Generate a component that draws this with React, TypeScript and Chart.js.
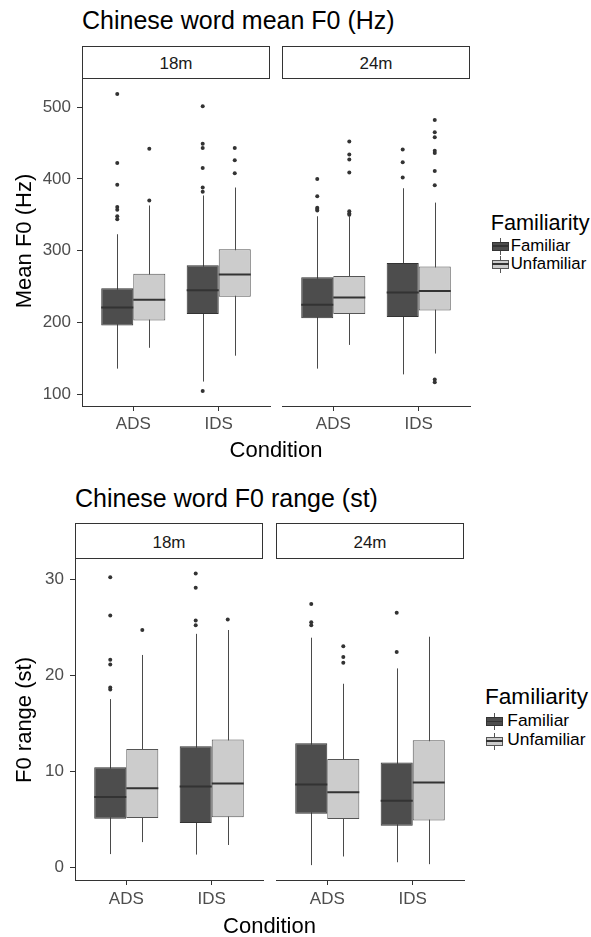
import React, { useEffect, useRef } from "react";
import { Chart, registerables } from "chart.js";

Chart.register(...registerables);

// ---------- data ----------
const conditions = ["ADS", "IDS"];
const ages = ["18m", "24m"];
const familiarity = ["Familiar", "Unfamiliar"];

// box stats per condition (ADS, IDS): [lower whisker, Q1, median, Q3, upper whisker]
const meanF0_18m_familiar = [[136, 196, 221, 248, 323], [118, 212, 245, 280, 377]];
const meanF0_18m_unfamiliar = [[165, 203, 232, 268, 363], [154, 236, 267, 302, 388]];
const meanF0_24m_familiar = [[136, 206, 225, 263, 348], [128, 208, 242, 283, 387]];
const meanF0_24m_unfamiliar = [[169, 212, 235, 265, 348], [157, 217, 244, 278, 367]];

const meanF0_18m_familiar_out = [[518, 422, 392, 361, 357, 348, 344], [501, 449, 443, 415, 388, 382, 105]];
const meanF0_18m_unfamiliar_out = [[442, 370], [443, 426, 408]];
const meanF0_24m_familiar_out = [[400, 376, 360, 358, 356], [441, 423, 402]];
const meanF0_24m_unfamiliar_out = [[452, 434, 427, 409, 355, 352, 350], [482, 465, 458, 439, 436, 411, 391, 121, 117]];

const range_18m_familiar = [[1.35, 5.03, 7.3, 10.4, 17.5], [1.3, 4.6, 8.4, 12.6, 24.3]];
const range_18m_unfamiliar = [[2.6, 5.1, 8.2, 12.3, 22.1], [2.3, 5.2, 8.7, 13.3, 24.7]];
const range_24m_familiar = [[0.2, 5.55, 8.6, 12.9, 23.9], [0.5, 4.3, 6.9, 10.9, 20.7]];
const range_24m_unfamiliar = [[1.1, 5.0, 7.8, 11.25, 19.1], [0.3, 4.85, 8.8, 13.2, 24.0]];

const range_18m_familiar_out = [[30.2, 26.2, 21.6, 21.1, 18.7, 18.5], [30.6, 29.1, 25.7, 25.2]];
const range_18m_unfamiliar_out = [[24.7], [25.8]];
const range_24m_familiar_out = [[27.4, 25.5, 25.2], [26.5, 22.4]];
const range_24m_unfamiliar_out = [[23.0, 21.9, 21.3], []];

const meanF0Ticks = [100, 200, 300, 400, 500];
const rangeTicks = [0, 10, 20, 30];

// ---------- style ----------
const FONT = '"Liberation Sans", Arial, Helvetica, sans-serif';
const FILL = ["#4d4d4d", "#cccccc"];
const BORDER = ["#333333", "#555555"];
const DODGE = 0.75;

function drawParts(chart: any, part: string) {
  const ctx = chart.ctx;
  const ys = chart.scales.y;
  chart.data.datasets.forEach((ds: any, di: number) => {
    if (!ds.stats) return;
    const meta = chart.getDatasetMeta(di);
    meta.data.forEach((bar: any, i: number) => {
      const s = ds.stats[i];
      const { x, width } = bar.getProps(["x", "width"], true);
      ctx.save();
      if (part === "whisker") {
        const cx = Math.round(x) + 0.5;
        ctx.strokeStyle = "#4a4a4a";
        ctx.lineWidth = 1;
        ctx.beginPath();
        ctx.moveTo(cx, ys.getPixelForValue(s[0]));
        ctx.lineTo(cx, ys.getPixelForValue(s[4]));
        ctx.stroke();
      } else {
        const py = ys.getPixelForValue(s[2]);
        ctx.strokeStyle = "#333333";
        ctx.lineWidth = 2;
        ctx.beginPath();
        ctx.moveTo(x - width / 2, py);
        ctx.lineTo(x + width / 2, py);
        ctx.stroke();
      }
      ctx.restore();
    });
  });
}

const boxPartsPlugin = {
  id: "boxParts",
  beforeDatasetsDraw(chart: any) {
    drawParts(chart, "whisker");
  },
  afterDatasetsDraw(chart: any) {
    drawParts(chart, "median");
  },
};

type PanelProps = {
  l: number; r: number; t: number; b: number;
  showY: boolean;
  yMin: number; yMax: number; yTicks: number[];
  fam: number[][]; unfam: number[][];
  famOut: number[][]; unfamOut: number[][];
  xPad: number;
};

function Panel(p: PanelProps) {
  const ref = useRef<HTMLCanvasElement>(null);
  const left = p.showY ? 0 : p.l - 10;
  const top = p.t - 20;
  const width = p.r + 10 - left;
  const height = p.b + 40 - top;

  useEffect(() => {
    const boxes = [p.fam, p.unfam];
    const outs = [p.famOut, p.unfamOut];
    const datasets: any[] = [];
    boxes.forEach((bx, f) => {
      datasets.push({
        type: "bar",
        label: familiarity[f],
        data: bx.map((s, i) => ({ x: i + 1, y: [s[1], s[3]] })),
        stats: bx,
        backgroundColor: FILL[f],
        borderColor: BORDER[f],
        borderWidth: 1,
        borderSkipped: false,
        categoryPercentage: DODGE,
        barPercentage: 1,
      });
    });
    outs.forEach((o, f) => {
      datasets.push({
        type: "scatter",
        label: familiarity[f] + " outliers",
        data: o.flatMap((vals, i) =>
          vals.map((v) => ({ x: i + 1 + (f === 0 ? -1 : 1) * (DODGE / 4), y: v }))
        ),
        pointRadius: 2,
        pointBackgroundColor: "#333333",
        pointBorderWidth: 0,
        pointHoverRadius: 2,
      });
    });

    const chart = new Chart(ref.current as HTMLCanvasElement, {
      type: "bar",
      data: { datasets },
      plugins: [boxPartsPlugin],
      options: {
        responsive: false,
        animation: false,
        devicePixelRatio: 1,
        layout: { padding: { left: p.showY ? 0 : 10, right: 10, top: 20, bottom: 0 } },
        plugins: { legend: { display: false }, tooltip: { enabled: false } },
        events: [],
        scales: {
          x: {
            type: "linear",
            min: 0.4,
            max: 2.6,
            offset: false,
            afterBuildTicks: (scale: any) => {
              scale.ticks = conditions.map((_, i) => ({ value: i + 1 }));
            },
            afterFit: (scale: any) => {
              scale.height = 40;
            },
            ticks: {
              callback: (v: any) => conditions[Math.round(Number(v)) - 1] ?? "",
              font: { family: FONT, size: 17 },
              color: "#4d4d4d",
              padding: p.xPad,
              maxRotation: 0,
              autoSkip: false,
            },
            grid: { drawOnChartArea: false, offset: false, tickLength: 5, color: "#333333", lineWidth: 1 },
            border: { display: true, color: "#333333", width: 1 },
          },
          y: {
            type: "linear",
            display: p.showY,
            min: p.yMin,
            max: p.yMax,
            afterBuildTicks: (scale: any) => {
              scale.ticks = p.yTicks.map((v) => ({ value: v }));
            },
            afterFit: (scale: any) => {
              scale.width = p.showY ? p.l : 0;
            },
            ticks: {
              font: { family: FONT, size: 17 },
              color: "#4d4d4d",
              padding: 6,
            },
            grid: { drawOnChartArea: false, tickLength: 5, color: "#333333", lineWidth: 1 },
            border: { display: true, color: "#333333", width: 1 },
          },
        },
      } as any,
    });
    return () => chart.destroy();
  }, []);

  return (
    <canvas
      ref={ref}
      width={width}
      height={height}
      style={{ position: "absolute", left, top, width, height }}
    />
  );
}

function Txt(props: { x: number; y: number; size: number; align?: string; color?: string; children: any }) {
  const { x, y, size, align = "left", color = "#000", children } = props;
  const tx = align === "center" ? "translateX(-50%)" : align === "right" ? "translateX(-100%)" : "none";
  return (
    <div
      style={{
        position: "absolute",
        left: x,
        top: y - 0.8465 * size,
        fontSize: size,
        lineHeight: `${size}px`,
        whiteSpace: "nowrap",
        color,
        transform: tx,
      }}
    >
      {children}
    </div>
  );
}

function VTxt(props: { cx: number; cy: number; size: number; children: any }) {
  const { cx, cy, size, children } = props;
  return (
    <div
      style={{
        position: "absolute",
        left: cx - 150,
        top: cy - size / 2,
        width: 300,
        height: size,
        lineHeight: `${size}px`,
        fontSize: size,
        textAlign: "center",
        whiteSpace: "nowrap",
        transform: "rotate(-90deg)",
        color: "#000",
      }}
    >
      {children}
    </div>
  );
}

function Strip(props: { l: number; r: number; t: number; h: number; baseline: number; label: string }) {
  const { l, r, t, h, baseline, label } = props;
  return (
    <>
      <div
        style={{
          position: "absolute",
          left: l,
          top: t,
          width: r - l,
          height: h,
          boxSizing: "border-box",
          border: "1px solid #333",
          background: "#fff",
        }}
      />
      <Txt x={(l + r) / 2} y={baseline} size={17} align="center" color="#1a1a1a">
        {label}
      </Txt>
    </>
  );
}

function Key(props: { x: number; cy: number; f: number }) {
  const { x, cy, f } = props;
  const w = 17;
  const bh = 9;
  const wh = 4;
  return (
    <>
      <div style={{ position: "absolute", left: x + w / 2 - 0.5, top: cy - bh / 2 - wh, width: 1, height: bh + 2 * wh, background: "#555" }} />
      <div
        style={{
          position: "absolute",
          left: x,
          top: cy - bh / 2,
          width: w,
          height: bh,
          boxSizing: "border-box",
          background: FILL[f],
          border: `1px solid ${BORDER[f]}`,
        }}
      />
      <div style={{ position: "absolute", left: x, top: cy - 1, width: w, height: 1.5, background: "#333" }} />
    </>
  );
}

function Legend(props: { x: number; titleBase: number; titleSize: number; keyX: number; cys: number[]; textX: number; bases: number[]; textSize: number }) {
  const { x, titleBase, titleSize, keyX, cys, textX, bases, textSize } = props;
  return (
    <>
      <Txt x={x} y={titleBase} size={titleSize}>Familiarity</Txt>
      {familiarity.map((name, f) => (
        <React.Fragment key={name}>
          <Key x={keyX} cy={cys[f]} f={f} />
          <Txt x={textX} y={bases[f]} size={textSize}>{name}</Txt>
        </React.Fragment>
      ))}
    </>
  );
}

export default function App() {
  const top = { t: 79, b: 406, panels: [{ l: 82, r: 270 }, { l: 282, r: 470 }] };
  const bot = { t: 559, b: 880, panels: [{ l: 75, r: 263 }, { l: 276, r: 464 }] };

  return (
    <div
      style={{
        position: "absolute",
        left: 0,
        top: 0,
        width: 591,
        height: 937,
        background: "#fff",
        overflow: "hidden",
        fontFamily: FONT,
      }}
    >
      {/* ---- top figure ---- */}
      <Txt x={82} y={29.3} size={25}>Chinese word mean F0 (Hz)</Txt>
      {top.panels.map((pp, i) => (
        <Strip key={"ts" + i} l={pp.l} r={pp.r} t={46} h={33} baseline={69} label={ages[i]} />
      ))}
      <Panel
        l={82} r={270} t={top.t} b={top.b} showY={true}
        yMin={84} yMax={539} yTicks={meanF0Ticks}
        fam={meanF0_18m_familiar} unfam={meanF0_18m_unfamiliar}
        famOut={meanF0_18m_familiar_out} unfamOut={meanF0_18m_unfamiliar_out}
        xPad={3}
      />
      <Panel
        l={282} r={470} t={top.t} b={top.b} showY={false}
        yMin={84} yMax={539} yTicks={meanF0Ticks}
        fam={meanF0_24m_familiar} unfam={meanF0_24m_unfamiliar}
        famOut={meanF0_24m_familiar_out} unfamOut={meanF0_24m_unfamiliar_out}
        xPad={3}
      />
      <VTxt cx={23.7} cy={241} size={22}>Mean F0 (Hz)</VTxt>
      <Txt x={276} y={457.7} size={22} align="center">Condition</Txt>
      <Legend x={490.7} titleBase={230.7} titleSize={21.7} keyX={491.5} cys={[246.3, 264]} textX={510.7} bases={[252.7, 270]} textSize={16.8} />

      {/* ---- bottom figure ---- */}
      <Txt x={75} y={506.7} size={25}>Chinese word F0 range (st)</Txt>
      {bot.panels.map((pp, i) => (
        <Strip key={"bs" + i} l={pp.l} r={pp.r} t={523} h={36} baseline={548.3} label={ages[i]} />
      ))}
      <Panel
        l={75} r={263} t={bot.t} b={bot.b} showY={true}
        yMin={-1.35} yMax={32.1} yTicks={rangeTicks}
        fam={range_18m_familiar} unfam={range_18m_unfamiliar}
        famOut={range_18m_familiar_out} unfamOut={range_18m_unfamiliar_out}
        xPad={4}
      />
      <Panel
        l={276} r={464} t={bot.t} b={bot.b} showY={false}
        yMin={-1.35} yMax={32.1} yTicks={rangeTicks}
        fam={range_24m_familiar} unfam={range_24m_unfamiliar}
        famOut={range_24m_familiar_out} unfamOut={range_24m_unfamiliar_out}
        xPad={4}
      />
      <VTxt cx={23.7} cy={720} size={22}>F0 range (st)</VTxt>
      <Txt x={269.5} y={933.3} size={22} align="center">Condition</Txt>
      <Legend x={485} titleBase={705} titleSize={22.6} keyX={486} cys={[721.7, 741]} textX={507.3} bases={[726.7, 746]} textSize={17.4} />
    </div>
  );
}
